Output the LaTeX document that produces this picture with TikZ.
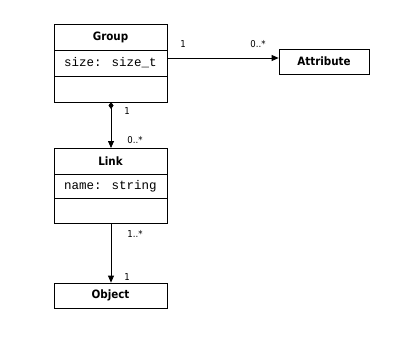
\documentclass[tikz,border=0pt]{standalone}
\usepackage{fontspec}
\setmainfont{DejaVu Sans Condensed}
\newfontfamily\monof{Liberation Mono}
\usetikzlibrary{arrows.meta}
\begin{document}
\begin{tikzpicture}[x=1pt,y=-1pt,
  box/.style={draw,line width=0.8pt},
  cname/.style={font=\fontsize{11.5}{13}\selectfont\bfseries},
  attr/.style={font=\monof\fontsize{12.5}{14}\selectfont},
  mult/.style={font=\fontsize{9.5}{11}\selectfont,inner sep=0pt},
  conn/.style={line width=0.8pt,-{Triangle[length=7pt,width=6pt]}}]
\useasboundingbox (0,0) rectangle (406,337);
% Group
\draw[box] (54,24) rectangle (167,102);
\draw[box] (54,50) -- (167,50);
\draw[box] (54,76) -- (167,76);
\node[cname] (gname) at (110.5,37) {Group};
\node[attr] (gattr) at (110.5,63) {size: size\_t};
\coordinate (gright) at (167,58);
\coordinate (gbot) at (111,102);
% Attribute
\node[box,cname,minimum width=90pt,minimum height=25pt,inner sep=0pt] (attrib) at (324,61.5) {Attribute};
% Link
\draw[box] (54,148) rectangle (167,223);
\draw[box] (54,174) -- (167,174);
\draw[box] (54,198) -- (167,198);
\node[cname] (lname) at (110.5,161) {Link};
\node[attr] (lattr) at (110.5,186) {name: string};
\coordinate (ltop) at (111,148);
\coordinate (lbot) at (111,223);
% Object
\node[box,cname,minimum width=113pt,minimum height=25pt,inner sep=0pt] (object) at (110.5,295.5) {Object};
% connectors
\draw[conn] (gright) -- (attrib.west |- gright);
\draw[conn,{Diamond[length=7pt,width=5pt]}-{Triangle[length=7pt,width=6pt]}] (gbot) -- (ltop);
\draw[conn] (lbot) -- (object.north -| lbot);
% multiplicities
\node[mult] (m1) at (183,44) {1};
\node[mult] (m2) at (258,44) {0..*};
\node[mult] (m3) at (127,111) {1};
\node[mult] (m4) at (135,140) {0..*};
\node[mult] (m5) at (135,234) {1..*};
\node[mult] (m6) at (127,277) {1};
\end{tikzpicture}
\end{document}
